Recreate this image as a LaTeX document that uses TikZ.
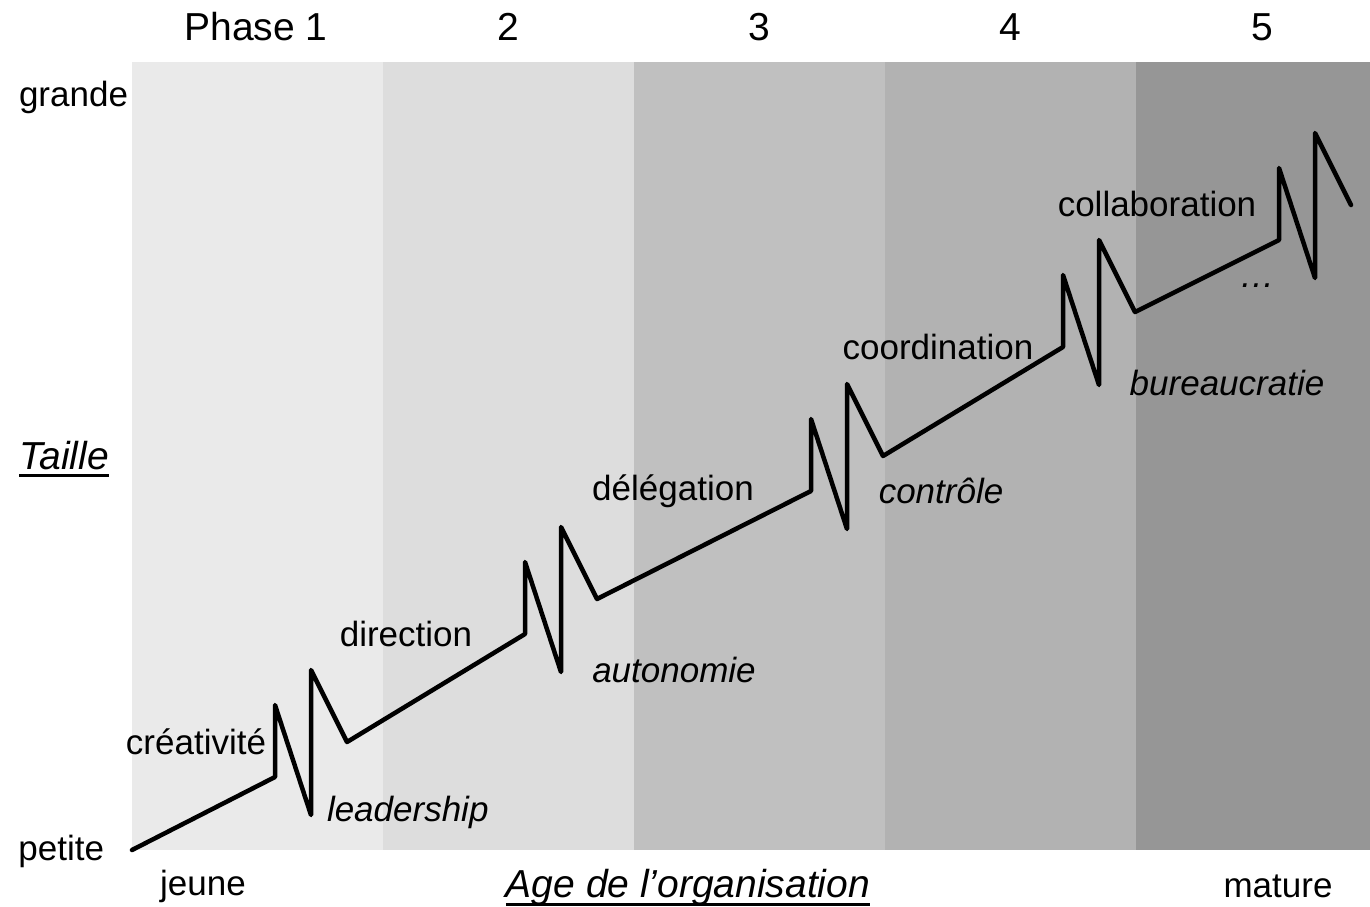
\documentclass[tikz,border=0pt]{standalone}
\usepackage{fontspec}
\setmainfont{Liberation Sans}
\usetikzlibrary{positioning}

\begin{document}
\begin{tikzpicture}[
        x = 1pt, y = -1pt,
        txt/.style = {
                font = \fontsize{35}{40}\selectfont,
                inner sep = 0pt,
                outer sep = 0pt
            },
        crise/.style = {txt, font = \fontsize{35}{40}\selectfont\itshape},
        head/.style = {txt, font = \fontsize{39}{44}\selectfont, anchor = base},
        axis/.style = {txt, font = \fontsize{39}{44}\selectfont\itshape, anchor = base},
        curve/.style = {line width = 4.5pt, line join = round, line cap = round}
    ]
    \useasboundingbox (0,0) rectangle (1370,906);

    % bands of the five phases
    \foreach \x/\w/\c in {132/251/EAEAEA, 383/251/DDDDDD, 634/251/C0C0C0, 885/251/B2B2B2, 1136/234/969696} {
        \definecolor{bandcol}{HTML}{\c}
        \fill[bandcol] (\x,62) rectangle ++(\w,788);
    }

    % phase headers
    \node[head] (ph1) at (256,40) {Phase 1};
    \node[head] (ph2) at (508,40) {2};
    \node[head] (ph3) at (759,40) {3};
    \node[head] (ph4) at (1010,40) {4};
    \node[head] (ph5) at (1262,40) {5};

    % axes
    \node[txt, anchor=east] (grande) at (128,97) {grande};
    \node[txt, anchor=east] (petite) at (104,851) {petite};
    \node[axis] (taille) at (64,469) {Taille};
    \node[txt] (jeune) at (203,886) {jeune};
    \node[axis] (age) at (688,897) {Age de l’organisation};
    \node[txt] (mature) at (1278,886) {mature};
    \draw[line width = 3pt] ([yshift=-6pt]taille.base west) -- ([yshift=-6pt]taille.base east);
    \draw[line width = 3pt] ([yshift=-7pt]age.base west) -- ([yshift=-7pt]age.base east);

    % growth curve
    \draw[curve] (132,850) coordinate (s1)
        \foreach \ex/\ey in {275/777, 525/634, 811/491, 1063/347, 1279/240} {
            -- (\ex,\ey) -- ++(0,-72) -- ++(36,110) -- ++(0,-145) -- ++(36,72)
        };

    % evolutions
    \node[txt] (evo1) at (196,742) {créativité};
    \node[txt] (evo2) at (406,634) {direction};
    \node[txt] (evo3) at (673,491) {délégation};
    \node[txt] (evo4) at (938,347) {coordination};
    \node[txt] (evo5) at (1157,204) {collaboration};

    % revolutions
    \node[crise, anchor=west] (rev1) at (327,812) {leadership};
    \node[crise] (rev2) at (674,670) {autonomie};
    \node[crise] (rev3) at (941,491) {contrôle};
    \node[crise] (rev4) at (1227,383) {bureaucratie};
    \node[crise] (rev5) at (1257,286) {…};

\end{tikzpicture}
\end{document}
